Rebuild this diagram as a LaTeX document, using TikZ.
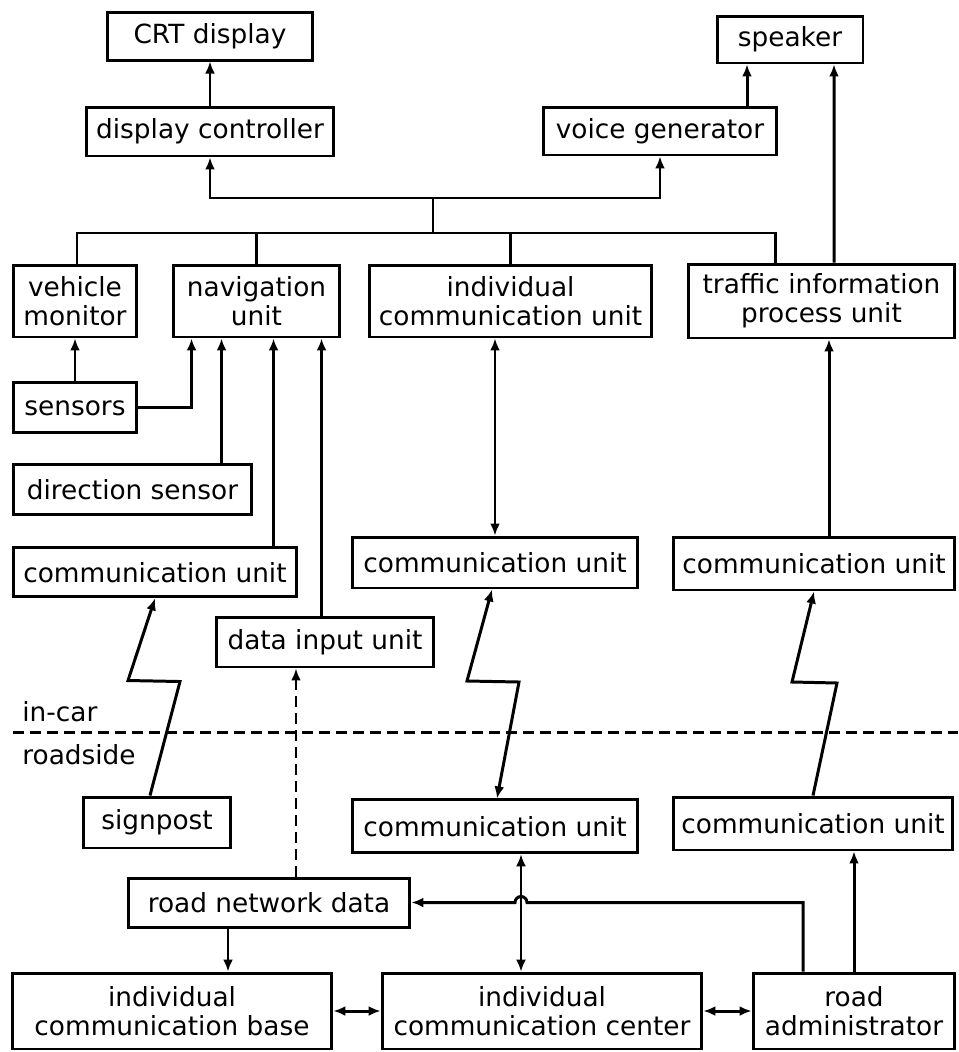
\documentclass[tikz,border=0pt]{standalone}
\usepackage{fontspec}
\setmainfont{DejaVu Sans}
\usetikzlibrary{positioning,arrows.meta,calc}
\tikzset{
	mybox/.style={draw,line width=1.7pt,align=center,inner sep=2pt,font=\fontsize{15pt}{16.5pt}\selectfont},
	mylabel/.style={draw=none,anchor=west,inner sep=0pt,font=\fontsize{15pt}{16.5pt}\selectfont},
	myarrow1/.style={->,>={Latex[length=0.24cm,width=0.2cm]},line width=1.7pt},
	myarrow2/.style={<->,>={Latex[length=0.24cm,width=0.2cm]},line width=1.7pt},
	myarrow3/.style={<->,>={Latex[length=0.24cm,width=0.2cm]},line width=1.1pt},
	myline/.style={line width=1.7pt},
	mydash/.style={line width=1.7pt,dash pattern=on 0.22cm off 0.12cm},
	mydasharrow/.style={myarrow1,dash pattern=on 0.22cm off 0.12cm}
}
\begin{document}
\begin{tikzpicture}[x=0.02cm,y=-0.02cm]
		\useasboundingbox (0,0) rectangle (958,1052);
		% output side
		\node[mybox,minimum width=4.96cm,minimum height=0.98cm](dispctl) at (210,131.5){display controller};
		\node[mybox,above=0.88cm of dispctl,minimum width=4.1cm,minimum height=0.96cm](crt){CRT display};
		\draw[myarrow1] (dispctl) -- (crt);
		\node[mybox,minimum width=4.68cm,minimum height=0.96cm](voice) at (660,131){voice generator};
		\node[mybox,minimum width=2.92cm,minimum height=0.94cm](speaker) at (790,39.5){speaker};
		\draw[myarrow1] ($(voice.north)+(87,0)$) -- ($(speaker.south)+(-43,0)$);
		\coordinate (busA) at (433,198);
		\coordinate (busB) at (433,233);
		\draw[myarrow1] (busA) -| (dispctl);
		\draw[myarrow1] (busA) -| (voice);
		\draw[myline] (busA) -- (busB);
		% in-car units
		\node[mybox,minimum width=2.48cm,minimum height=1.44cm](vehicle) at (75,301){vehicle\\monitor};
		\node[mybox,minimum width=3.34cm,minimum height=1.44cm](nav) at (256.5,301){navigation\\unit};
		\node[mybox,minimum width=5.66cm,minimum height=1.44cm](indiv) at (510.5,301){individual\\communication unit};
		\node[mybox,minimum width=5.34cm,minimum height=1.48cm](traffic) at (821.5,301){traffic information\\process unit};
		\coordinate (busL) at (77,233);
		\coordinate (busR) at (775,233);
		\draw[myline] (busL |- vehicle.north) -- (busL) -- (busR) -- (busR |- traffic.north);
		\draw[myline] (nav.north) -- (nav.north |- busB);
		\draw[myline] (indiv.north) -- (indiv.north |- busB);
		\draw[myarrow1] ($(traffic.north)+(12.5,0)$) -- ($(speaker.south)+(44,0)$);
		\node[mybox,below=0.86cm of vehicle,minimum width=2.46cm,minimum height=1cm](sensors){sensors};
		\draw[myarrow1] (sensors) -- (vehicle);
		\coordinate (navin1) at ($(nav.south west)+(20,0)$);
		\coordinate (navin2) at ($(nav.south west)+(50,0)$);
		\coordinate (navin3) at ($(nav.south west)+(102,0)$);
		\coordinate (navin4) at ($(nav.south west)+(150,0)$);
		\draw[myarrow1] (sensors.east) -| (navin1);
		\node[mybox,below=0.58cm of sensors.south west,anchor=north west,minimum width=4.76cm,minimum height=1cm](dirsens){direction sensor};
		\draw[myarrow1] (dirsens.north -| navin2) -- (navin2);
		\node[mybox,below=0.6cm of dirsens.south west,anchor=north west,minimum width=5.66cm,minimum height=0.98cm](comL){communication unit};
		\draw[myarrow1] (comL.north -| navin3) -- (navin3);
		\node[mybox,minimum width=4.36cm,minimum height=1cm](datain) at (325,642){data input unit};
		\draw[myarrow1] (datain.north -| navin4) -- (navin4);
		\node[mybox,minimum width=5.72cm,minimum height=1.02cm](comM) at (495,562.5){communication unit};
		\draw[myarrow2] (comM.north) -- (comM.north |- indiv.south);
		\node[mybox,minimum width=5.64cm,minimum height=1.06cm](comR) at (814,563.5){communication unit};
		\coordinate (comRout) at ($(comR.north)+(15,0)$);
		\draw[myarrow1] (comRout) -- (comRout |- traffic.south);
		% in-car / roadside border
		\coordinate (divL) at (13,732);
		\coordinate (divR) at (958,732);
		\draw[mydash] (divL) -- (divR);
		\node[mylabel](incar) at (22,712){in-car};
		\node[mylabel](roadside) at (22,755){roadside};
		% roadside units
		\node[mybox,minimum width=2.96cm,minimum height=1.02cm](signpost) at (157,822.5){signpost};
		\node[mybox,below=4.18cm of comM,minimum width=5.72cm,minimum height=1.06cm](comMb){communication unit};
		\node[mybox,minimum width=5.6cm,minimum height=1.06cm](comRb) at (813,823.5){communication unit};
		\draw[myarrow1] ($(signpost.north)+(-7,0)$) -- ++(30,-114) -- ++(-52,-1) -- (comL.south);
		\draw[myarrow2] ($(comM.south)+(-3,0)$) -- (467,681) -- (519,682) -- ($(comMb.north)+(2,0)$);
		\draw[myarrow1] (comRb.north) -- (837,683) -- (792,682) -- (comR.south);
		\node[mybox,minimum width=5.64cm,minimum height=0.98cm](roadnet) at (269,902.5){road network data};
		\draw[mydasharrow] ($(roadnet.north)+(27,0)$) -- ($(datain.south)+(-29,0)$);
		\node[mybox,minimum width=6.4cm,minimum height=1.52cm](base) at (172,1011){individual\\communication base};
		\node[mybox,minimum width=6.4cm,minimum height=1.52cm](center) at (542,1011){individual\\communication center};
		\node[mybox,minimum width=4.04cm,minimum height=1.52cm](admin) at (854,1011){road\\administrator};
		\coordinate (rn1) at ($(roadnet.south)+(-41,0)$);
		\draw[myarrow1] (rn1) -- (rn1 |- base.north);
		\draw[myarrow2] (base) -- (center);
		\draw[myarrow2] (center) -- (admin);
		\coordinate (cm1) at ($(comMb.south)+(26,0)$);
		\draw[myarrow3] (cm1) -- (cm1 |- center.north);
		\coordinate (ad1) at ($(admin.north)+(-51,0)$);
		\coordinate (jump) at ($(cm1 |- roadnet.east)+(6,0)$);
		\draw[myarrow1] (ad1) |- (jump) arc[start angle=0,end angle=180,radius=0.12cm] -- (roadnet.east);
		\draw[myarrow1] (admin.north) -- (admin.north |- comRb.south);
	\end{tikzpicture}
\end{document}
